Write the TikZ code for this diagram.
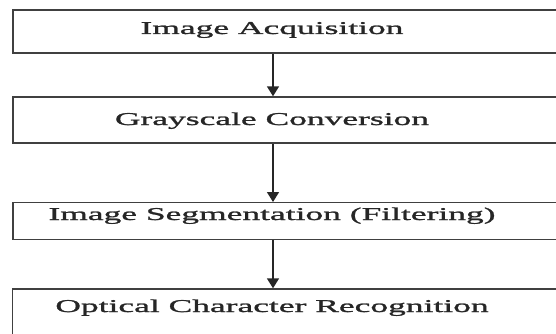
\documentclass[tikz,border=0pt]{standalone}
\usepackage{fontspec}
\newfontfamily\stepfont[FakeStretch=1.97,FakeBold=1.4]{Liberation Serif}
\usetikzlibrary{arrows.meta}
\pgfdeclarelayer{edgelayer}
\pgfdeclarelayer{nodelayer}
\pgfsetlayers{edgelayer,nodelayer,main}
\tikzstyle{none}=[inner sep=0pt]
\tikzstyle{stage_box}=[rectangle,draw=black!75,line width=1.4pt,minimum width=587pt,inner sep=0pt]
\tikzstyle{stage_label}=[inner sep=0pt,anchor=base,text=black!85,font=\stepfont\fontsize{18}{18}\selectfont]
\tikzstyle{transition}=[-{Triangle[width=12pt,length=10pt]},draw=black!85,line width=1.5pt]

\begin{document}
\begin{tikzpicture}[x=1pt,y=-1pt]
	\useasboundingbox (0,0) rectangle (556,334);
	\begin{pgfonlayer}{nodelayer}
		\node [style={stage_box}, minimum height=43pt] (0) at (306.5, 31.5) {};
		\node [style={stage_box}, minimum height=46pt] (1) at (306.5, 120) {};
		\node [style={stage_box}, minimum height=36.6pt] (2) at (306.5, 221) {};
		\node [style={stage_box}, minimum height=51pt] (3) at (306, 314.5) {};
		\node [style={stage_label}] (4) at (272, 34) {Image Acquisition};
		\node [style={stage_label}] (5) at (272, 125) {Grayscale Conversion};
		\node [style={stage_label}] (6) at (272, 220) {Image Segmentation (Filtering)};
		\node [style={stage_label}] (7) at (272, 312) {Optical Character Recognition};
		\coordinate (8) at (273, 0);
	\end{pgfonlayer}
	\begin{pgfonlayer}{edgelayer}
		\draw [style=transition] (0.south -| 8) to (1.north -| 8);
		\draw [style=transition] (1.south -| 8) to (2.north -| 8);
		\draw [style=transition] (2.south -| 8) to (3.north -| 8);
	\end{pgfonlayer}
\end{tikzpicture}
\end{document}
